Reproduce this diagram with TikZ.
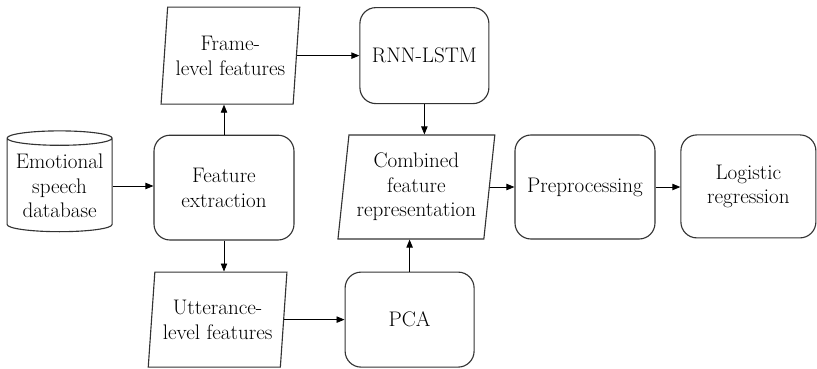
\documentclass[tikz,border=0pt]{standalone}
\usetikzlibrary{arrows.meta,positioning,shapes.geometric}

\begin{document}
\begin{tikzpicture}[
  box/.style={rectangle, draw=black!80, line width=0.8pt, rounded corners=0.4cm,
              align=center, inner sep=1pt, font=\fontsize{15}{17.5}\selectfont},
  data/.style={trapezium, trapezium left angle=82, trapezium right angle=98,
               trapezium stretches=true, draw=black!80, line width=0.8pt,
               align=center, inner sep=1pt, font=\fontsize{15}{17.5}\selectfont},
  db/.style={cylinder, shape border rotate=90, aspect=0.16, draw=black!80, line width=0.8pt,
             align=center, inner sep=1pt, font=\fontsize{15}{17.5}\selectfont},
  arrow/.style={-{Triangle[length=2mm, width=1.6mm]}, line width=0.6pt}
]
\useasboundingbox (0,0) rectangle (20.425,-9.2);

% input
\node[db, minimum width=2.625cm, minimum height=2.52cm] (speechDB) at (1.49,-4.65) {Emotional\\speech\\database};
\node[box, minimum width=3.5cm, minimum height=2.62cm] (featExt) at (5.6,-4.69) {Feature\\extraction};

% features
\node[data, minimum width=3.475cm, minimum height=2.425cm] (frameFeat) at (5.76,-1.39) {Frame-\\level features};
\node[data, minimum width=3.475cm, minimum height=2.375cm] (uttFeat) at (5.44,-7.99) {Utterance-\\level features};

% feature models
\node[box, minimum width=3.225cm, minimum height=2.4cm] (rnnLstm) at (10.61,-1.39) {RNN-LSTM};
\node[box, minimum width=3.225cm, minimum height=2.375cm] (pca) at (10.24,-7.99) {PCA};
\node[data, minimum width=3.925cm, minimum height=2.6cm] (combFeat) at (10.41,-4.675) {Combined\\feature\\representation};

% classifier
\node[box, minimum width=3.5cm, minimum height=2.6cm] (preproc) at (14.625,-4.675) {Preprocessing};
\node[box, minimum width=3.375cm, minimum height=2.575cm] (logReg) at (18.71,-4.66) {Logistic\\regression};

% arrows
\draw[arrow] (speechDB.east) -- (speechDB.east -| featExt.west);
\draw[arrow] (featExt.north) -- (featExt.north |- frameFeat.south);
\draw[arrow] (featExt.south) -- (featExt.south |- uttFeat.north);
\draw[arrow] (frameFeat.east) -- (frameFeat.east -| rnnLstm.west);
\draw[arrow] (uttFeat.east) -- (uttFeat.east -| pca.west);
\draw[arrow] (rnnLstm.south) -- (rnnLstm.south |- combFeat.north);
\draw[arrow] (pca.north) -- (pca.north |- combFeat.south);
\draw[arrow] (combFeat.east) -- (combFeat.east -| preproc.west);
\draw[arrow] (preproc.east) -- (preproc.east -| logReg.west);

\end{tikzpicture}
\end{document}
